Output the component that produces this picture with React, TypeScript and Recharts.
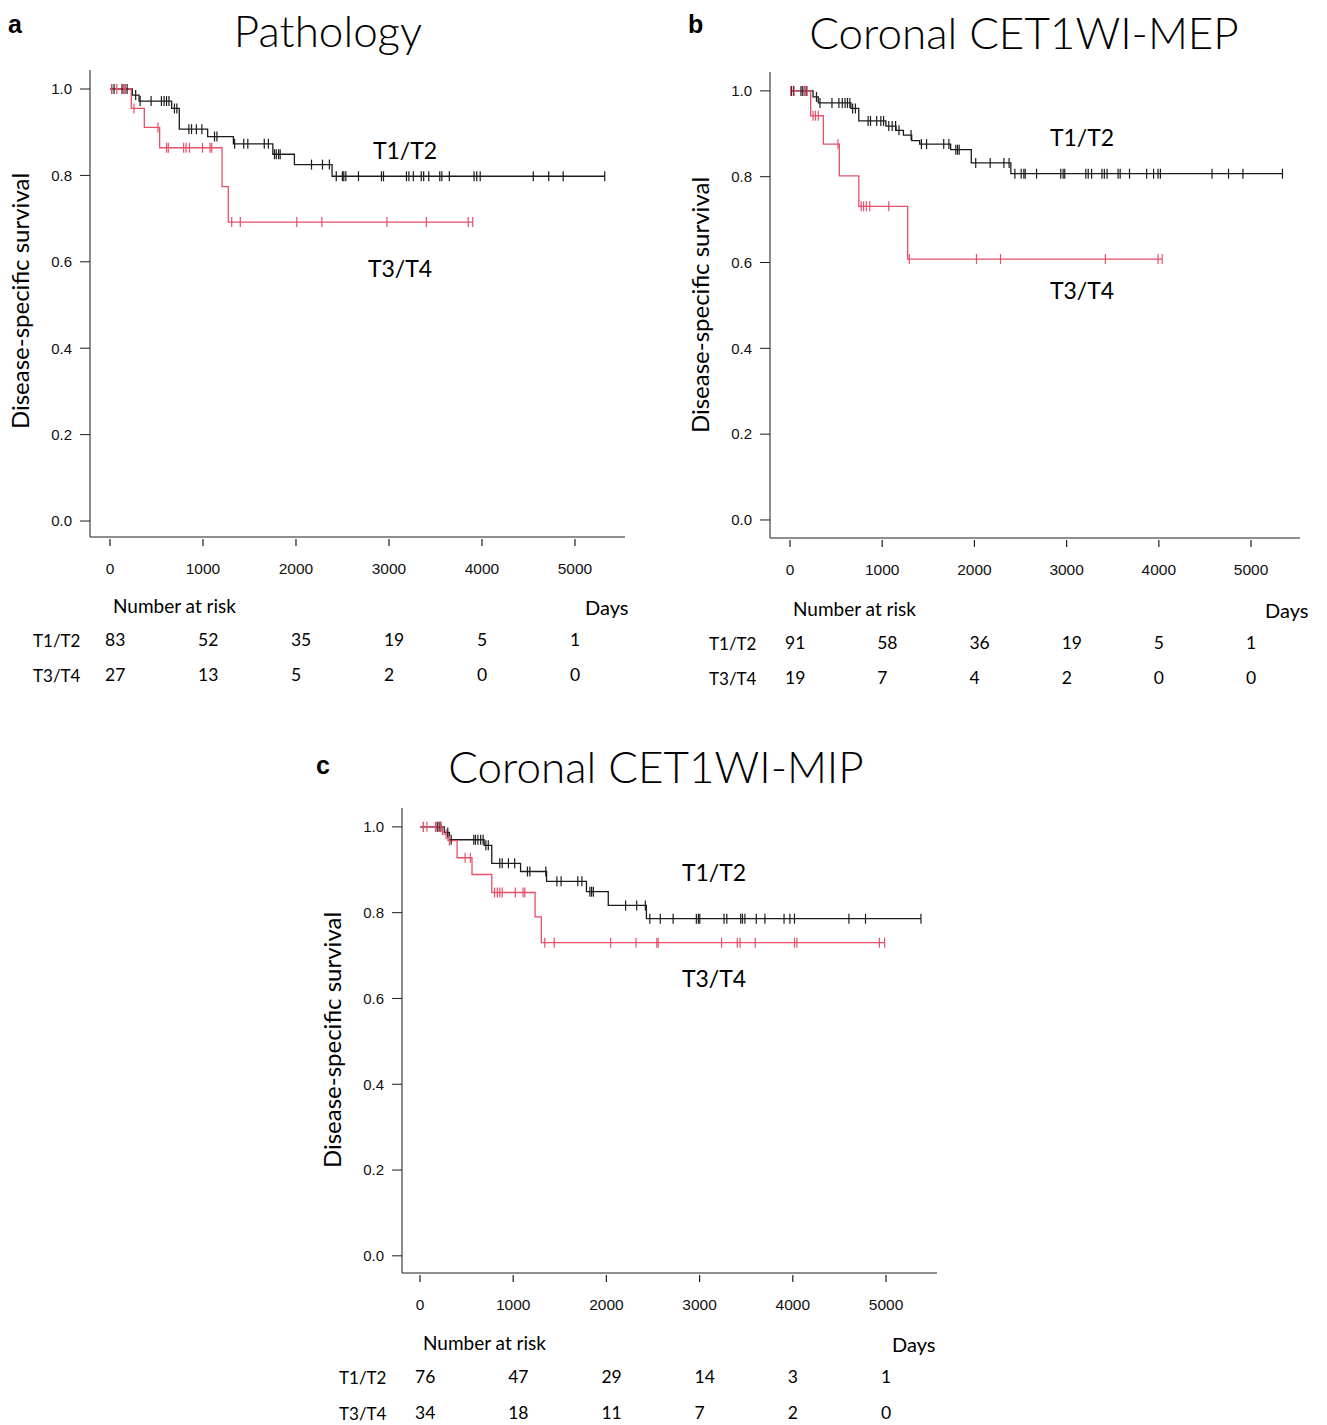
import React from 'react'
import { ComposedChart, Line, XAxis, YAxis } from 'recharts'

const BLACK = '#1c1c1c'
const RED = '#e8506a'
const FONT = 'Lato, "Open Sans", sans-serif'

const xTicks = [0, 1000, 2000, 3000, 4000, 5000]
const yTicks = [0, 0.2, 0.4, 0.6, 0.8, 1.0]

// panel a: Pathology
const stepsA12 = [
  [0, 1], [240, 0.986], [313, 0.972], [663, 0.955], [745, 0.907], [1050, 0.89],
  [1327, 0.873], [1751, 0.849], [1983, 0.825], [2388, 0.798], [5320, 0.798],
]
const censA12 = [
  18, 44, 129, 147, 166, 184, 276, 324, 442, 553, 582, 608, 634, 693, 719, 848, 877,
  929, 988, 1124, 1150, 1340, 1438, 1482, 1659, 1703, 1769, 1788, 1813, 1830, 2167,
  2285, 2359, 2433, 2499, 2514, 2536, 2672, 2919, 2941, 3188, 3214, 3262, 3347, 3373,
  3428, 3546, 3568, 3649, 3915, 3944, 3981, 4552, 4718, 4873, 5320,
]
const stepsA34 = [
  [0, 1], [229, 0.955], [369, 0.911], [534, 0.864], [1205, 0.774], [1272, 0.692], [3900, 0.692],
]
const censA34 = [
  18, 74, 147, 166, 258, 516, 608, 627, 792, 818, 855, 995, 1076, 1094, 1309, 1401,
  2009, 2278, 2978, 3402, 3852, 3900,
]
const riskA12 = [83, 52, 35, 19, 5, 1]
const riskA34 = [27, 13, 5, 2, 0, 0]

// panel b: Coronal CET1WI-MEP
const stepsB12 = [
  [0, 1], [250, 0.986], [306, 0.972], [660, 0.959], [746, 0.93], [1040, 0.918],
  [1150, 0.908], [1230, 0.897], [1320, 0.884], [1406, 0.876], [1742, 0.863],
  [1966, 0.832], [2395, 0.807], [5341, 0.807],
]
const censB12 = [
  15, 37, 119, 138, 157, 175, 287, 325, 455, 530, 567, 597, 623, 649, 679, 709, 847,
  873, 940, 985, 1015, 1071, 1108, 1145, 1182, 1313, 1425, 1481, 1667, 1723, 1798,
  1817, 1835, 2014, 2171, 2320, 2376, 2439, 2507, 2536, 2551, 2674, 2936, 2962, 2980,
  3208, 3234, 3271, 3383, 3409, 3439, 3558, 3581, 3682, 3868, 3943, 3991, 4017, 4577,
  4756, 4912, 5341,
]
const stepsB34 = [
  [0, 1], [224, 0.942], [362, 0.876], [535, 0.802], [746, 0.731], [1276, 0.608], [4036, 0.608],
]
const censB34 = [
  7, 45, 157, 187, 250, 276, 306, 520, 772, 798, 828, 865, 1071, 1294, 2022, 2283,
  3420, 3991, 4036,
]
const riskB12 = [91, 58, 36, 19, 5, 1]
const riskB34 = [19, 7, 4, 2, 0, 0]

// panel c: Coronal CET1WI-MIP
const stepsC12 = [
  [0, 1], [260, 0.987], [316, 0.97], [688, 0.957], [770, 0.915], [1079, 0.896],
  [1358, 0.873], [1786, 0.849], [2020, 0.817], [2429, 0.786], [5375, 0.786],
]
const censC12 = [
  37, 167, 186, 205, 223, 298, 335, 577, 595, 621, 651, 677, 707, 733, 856, 882, 949,
  1016, 1153, 1179, 1350, 1469, 1514, 1693, 1737, 1823, 1841, 1860, 2206, 2325, 2418,
  2466, 2578, 2716, 2965, 2987, 3002, 3262, 3292, 3441, 3460, 3486, 3608, 3701, 3906,
  3969, 4018, 4602, 4780, 5375,
]
const stepsC34 = [
  [0, 1], [240, 0.983], [300, 0.968], [398, 0.928], [558, 0.889], [770, 0.847],
  [1235, 0.79], [1302, 0.73], [4985, 0.73],
]
const censC34 = [
  37, 74, 167, 197, 223, 280, 316, 484, 540, 800, 830, 856, 882, 1023, 1105, 1124,
  1339, 1440, 2046, 2318, 2541, 2555, 3236, 3404, 3434, 3597, 4018, 4044, 4929, 4985,
]
const riskC12 = [76, 47, 29, 14, 3, 1]
const riskC34 = [34, 18, 11, 7, 2, 0]

type Step = number[]

const toPts = (steps: Step[]) => steps.map(([t, s]) => ({ t, s }))

// survival value of a step curve at time t (censor ticks sit on the curve)
const survAt = (steps: Step[], t: number) => {
  let s = 1
  for (const [ti, si] of steps) if (ti <= t) s = si
  return s
}
const censPts = (steps: Step[], times: number[]) => times.map((t) => ({ t, s: survAt(steps, t) }))

const CensorMark = (color: string) => (props: any) => {
  const { cx, cy } = props
  if (cx == null || cy == null) return <g />
  return <line x1={cx} x2={cx} y1={cy - 5} y2={cy + 5} stroke={color} strokeWidth={1.2} />
}

const XTick = (props: any) => {
  const { x, y, payload } = props
  return (
    <g>
      <line x1={x} x2={x} y1={y + 2} y2={y + 9} stroke={BLACK} strokeWidth={1.2} />
      <text
        x={x}
        y={y + 31}
        textAnchor="middle"
        dominantBaseline="central"
        fontSize={15.5}
        fontFamily='"Liberation Sans", Arial, sans-serif'
        fill="#111"
      >
        {payload.value}
      </text>
    </g>
  )
}

type Panel = {
  L: number; R: number; T: number; B: number
  xDom: number[]; yDom: number[]
  s12: Step[]; c12: number[]; s34: Step[]; c34: number[]
  r12: number[]; r34: number[]
  letter: string; letterPos: number[]
  title: string; titlePos: number[]
  yLabelPos: number[]
  lab12: number[]; lab34: number[]
  narY: number; rowsY: number[]; rowLabelX: number; daysX: number
}

const panels: Panel[] = [
  {
    L: 90, R: 625, T: 70, B: 537, xDom: [-215, 5538], yDom: [-0.037, 1.044],
    s12: stepsA12, c12: censA12, s34: stepsA34, c34: censA34, r12: riskA12, r34: riskA34,
    letter: 'a', letterPos: [8, 24], title: 'Pathology', titlePos: [328, 30],
    yLabelPos: [20, 301], lab12: [405, 150], lab34: [400, 268],
    narY: 605, rowsY: [640, 675], rowLabelX: 33, daysX: 585,
  },
  {
    L: 770, R: 1300, T: 72, B: 538, xDom: [-217, 5531], yDom: [-0.042, 1.044],
    s12: stepsB12, c12: censB12, s34: stepsB34, c34: censB34, r12: riskB12, r34: riskB34,
    letter: 'b', letterPos: [688, 24], title: 'Coronal CET1WI-MEP', titlePos: [1024, 32],
    yLabelPos: [700, 305], lab12: [1082, 137], lab34: [1082, 290],
    narY: 608, rowsY: [643, 678], rowLabelX: 709, daysX: 1265,
  },
  {
    L: 402, R: 937, T: 808, B: 1273, xDom: [-193, 5547], yDom: [-0.04, 1.044],
    s12: stepsC12, c12: censC12, s34: stepsC34, c34: censC34, r12: riskC12, r34: riskC34,
    letter: 'c', letterPos: [316, 765], title: 'Coronal CET1WI-MIP', titlePos: [656, 766],
    yLabelPos: [332, 1040], lab12: [714, 872], lab34: [714, 978],
    narY: 1342, rowsY: [1377, 1413], rowLabelX: 339, daysX: 892,
  },
]

const Txt = ({ x, y, size, children, align = 'left', style = {} }: any) => (
  <div
    style={{
      position: 'absolute',
      left: x,
      top: y,
      transform: `translate(${align === 'center' ? '-50%' : '0'}, -50%)`,
      fontSize: size,
      fontFamily: FONT,
      whiteSpace: 'nowrap',
      lineHeight: 1,
      color: '#000',
      ...style,
    }}
  >
    {children}
  </div>
)

const KMPanel = ({ p }: { p: Panel }) => {
  const left = p.L - 70
  const top = p.T - 10
  const width = p.R - p.L + 80
  const height = p.B - p.T + 60
  const px = (t: number) => p.L + ((t - p.xDom[0]) / (p.xDom[1] - p.xDom[0])) * (p.R - p.L)
  return (
    <>
      <Txt x={p.letterPos[0]} y={p.letterPos[1]} size={25} style={{ fontFamily: '"Liberation Sans", Arial', fontWeight: 700 }}>
        {p.letter}
      </Txt>
      <Txt x={p.titlePos[0]} y={p.titlePos[1]} size={44} align="center" style={{ fontWeight: 300 }}>
        {p.title}
      </Txt>
      <div style={{ position: 'absolute', left, top }}>
        <ComposedChart width={width} height={height} margin={{ top: 10, right: 10, left: 10, bottom: 0 }}>
          <XAxis
            type="number"
            dataKey="t"
            domain={p.xDom}
            ticks={xTicks}
            allowDataOverflow
            height={50}
            stroke={BLACK}
            tickSize={0}
            tickMargin={0}
            tickLine={false}
            tick={<XTick />}
          />
          <YAxis
            type="number"
            dataKey="s"
            domain={p.yDom}
            ticks={yTicks}
            allowDataOverflow
            width={60}
            stroke={BLACK}
            tickSize={10}
            tickMargin={8}
            tickFormatter={(v: number) => v.toFixed(1)}
            tick={{ fontSize: 15, fill: '#111', fontFamily: '"Liberation Sans", Arial, sans-serif' }}
          />
          <Line data={toPts(p.s12)} dataKey="s" type="stepAfter" stroke={BLACK} strokeWidth={1.3} dot={false} isAnimationActive={false} />
          <Line data={toPts(p.s34)} dataKey="s" type="stepAfter" stroke={RED} strokeWidth={1.3} dot={false} isAnimationActive={false} />
          <Line data={censPts(p.s12, p.c12)} dataKey="s" stroke="none" dot={CensorMark(BLACK)} isAnimationActive={false} />
          <Line data={censPts(p.s34, p.c34)} dataKey="s" stroke="none" dot={CensorMark(RED)} isAnimationActive={false} />
        </ComposedChart>
      </div>
      <Txt
        x={p.yLabelPos[0]}
        y={p.yLabelPos[1]}
        size={24}
        style={{ transform: 'translate(-50%, -50%) rotate(-90deg)' }}
      >
        Disease-specific survival
      </Txt>
      <Txt x={p.lab12[0]} y={p.lab12[1]} size={23} align="center">T1/T2</Txt>
      <Txt x={p.lab34[0]} y={p.lab34[1]} size={23} align="center">T3/T4</Txt>
      <Txt x={px(0) + 3} y={p.narY} size={19}>Number at risk</Txt>
      <Txt x={p.daysX} y={p.narY + 2} size={20}>Days</Txt>
      <Txt x={p.rowLabelX} y={p.rowsY[0]} size={17}>T1/T2</Txt>
      <Txt x={p.rowLabelX} y={p.rowsY[1]} size={17}>T3/T4</Txt>
      {p.r12.map((n, i) => (
        <Txt key={'a' + i} x={px(xTicks[i]) - 5} y={p.rowsY[0]} size={17.5}>{n}</Txt>
      ))}
      {p.r34.map((n, i) => (
        <Txt key={'b' + i} x={px(xTicks[i]) - 5} y={p.rowsY[1]} size={17.5}>{n}</Txt>
      ))}
    </>
  )
}

export default function App() {
  return (
    <div style={{ position: 'absolute', left: 0, top: 0, width: 1327, height: 1425, background: '#fff' }}>
      {panels.map((p) => (
        <KMPanel key={p.letter} p={p} />
      ))}
    </div>
  )
}
